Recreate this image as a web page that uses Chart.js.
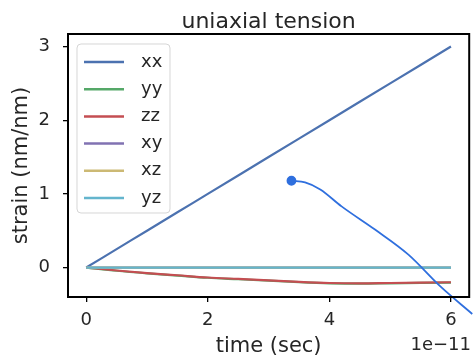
<!DOCTYPE html>
<html lang="en">
<head>
  <meta charset="UTF-8" />
  <title>uniaxial tension</title>
  <script src="https://cdn.jsdelivr.net/npm/chart.js"></script>
  <style>
    body { margin: 0; background: #fff; }
    canvas { display: block; }
  </style>
</head>
<body>
  <canvas id="strainChart" width="475" height="358"></canvas>

  <script>
  // time in seconds (axis shows it scaled by 1e-11)
  const timeSec = [0, 5e-12, 1e-11, 1.5e-11, 2e-11, 2.5e-11, 3e-11, 3.5e-11, 4e-11, 4.5e-11, 5e-11, 5.5e-11, 6e-11];
  const strainXX = [0, 0.25, 0.5, 0.75, 1.0, 1.25, 1.5, 1.75, 2.0, 2.25, 2.5, 2.75, 3.0];
  const strainYY = [0, -0.044, -0.079, -0.109, -0.139, -0.159, -0.179, -0.199, -0.214, -0.219, -0.214, -0.209, -0.204];
  const strainZZ = [0, -0.04, -0.075, -0.105, -0.135, -0.155, -0.175, -0.195, -0.21, -0.215, -0.21, -0.205, -0.2];
  const strainXY = [0, 0, 0, 0, 0, 0, 0, 0, 0, 0, 0, 0, 0];
  const strainXZ = [0, 0, 0, 0, 0, 0, 0, 0, 0, 0, 0, 0, 0];
  const strainYZ = [0, 0, 0, 0, 0, 0, 0, 0, 0, 0, 0, 0, 0];

  const seriesNames = ["xx", "yy", "zz", "xy", "xz", "yz"];
  const seriesColors = ["#4C72B0", "#55A868", "#C44E52", "#8172B2", "#CCB974", "#64B5CD"];
  const seriesValues = [strainXX, strainYY, strainZZ, strainXY, strainXZ, strainYZ];

  // blue pen stroke drawn over the plot
  const annoTime = [3.376e-11, 3.6e-11, 3.85e-11, 4.2e-11, 4.75e-11, 5.3e-11, 5.83e-11, 6.35e-11];
  const annoValue = [1.178, 1.155, 1.06, 0.83, 0.515, 0.175, -0.26, -0.63];

  const xTicks = [0, 2e-11, 4e-11, 6e-11];
  const yTicks = [0, 1, 2, 3];
  const xOffsetText = "1e\u221211";
  const titleText = "uniaxial tension";
  const xLabel = "time (sec)";
  const yLabel = "strain (nm/nm)";

  const FONT = "'DejaVu Sans', sans-serif";
  const TEXT = "#262626";

  const datasets = seriesNames.map((name, i) => ({
    label: name,
    data: timeSec.map((t, j) => ({ x: t, y: seriesValues[i][j] })),
    borderColor: seriesColors[i],
    borderWidth: 2.2,
    pointRadius: 0,
    fill: false,
    cubicInterpolationMode: "monotone",
    order: seriesNames.length - i + 1
  }));

  datasets.push({
    label: "",
    data: annoTime.map((t, j) => ({ x: t, y: annoValue[j] })),
    borderColor: "#2F6FDE",
    backgroundColor: "#2F6FDE",
    borderWidth: 1.8,
    pointRadius: annoTime.map((t, j) => j === 0 ? 4 : 0),
    cubicInterpolationMode: "monotone",
    clip: false,
    order: 0
  });

  const decorations = {
    id: "decorations",
    afterDatasetsDraw(chart) {
      const ctx = chart.ctx;
      const a = chart.chartArea;
      ctx.save();

      // frame
      ctx.strokeStyle = "#000";
      ctx.lineWidth = 2;
      ctx.strokeRect(a.left, a.top, a.right - a.left, a.bottom - a.top);

      // title
      ctx.fillStyle = TEXT;
      ctx.textAlign = "center";
      ctx.textBaseline = "alphabetic";
      ctx.font = "22px " + FONT;
      ctx.fillText(titleText, (a.left + a.right) / 2, 28);

      // axis labels
      ctx.font = "21px " + FONT;
      ctx.fillText(xLabel, (a.left + a.right) / 2, 352);
      ctx.save();
      ctx.translate(27, (a.top + a.bottom) / 2);
      ctx.rotate(-Math.PI / 2);
      ctx.fillText(yLabel, 0, 0);
      ctx.restore();

      // offset text
      ctx.font = "18px " + FONT;
      ctx.textAlign = "right";
      ctx.fillText(xOffsetText, 471, 350);

      // legend
      const bx = 77, by = 44, bw = 93, bh = 169;
      ctx.beginPath();
      ctx.roundRect(bx, by, bw, bh, 4);
      ctx.fillStyle = "rgba(255,255,255,0.8)";
      ctx.fill();
      ctx.strokeStyle = "rgba(204,204,204,0.8)";
      ctx.lineWidth = 1;
      ctx.stroke();
      ctx.textAlign = "left";
      ctx.textBaseline = "middle";
      seriesNames.forEach((name, i) => {
        const y = 62 + i * 27.2;
        ctx.strokeStyle = seriesColors[i];
        ctx.lineWidth = 2.5;
        ctx.beginPath();
        ctx.moveTo(84, y);
        ctx.lineTo(124, y);
        ctx.stroke();
        ctx.fillStyle = TEXT;
        ctx.fillText(name, 141, y);
      });

      ctx.restore();
    }
  };

  new Chart(document.getElementById("strainChart"), {
    type: "line",
    data: { datasets },
    options: {
      responsive: false,
      animation: false,
      layout: { padding: { top: 34, right: 3, left: 0, bottom: 0 } },
      plugins: {
        legend: { display: false },
        tooltip: { enabled: false }
      },
      scales: {
        x: {
          type: "linear",
          min: -0.3e-11,
          max: 6.3e-11,
          afterBuildTicks: s => { s.ticks = xTicks.map(v => ({ value: v })); },
          afterFit: s => { s.height = 61; },
          border: { display: false },
          grid: { drawOnChartArea: false, drawTicks: true, tickLength: 5, color: "#000", lineWidth: 1.3 },
          ticks: {
            color: TEXT,
            font: { family: FONT, size: 18 },
            padding: 8,
            maxRotation: 0,
            callback: v => String(Math.round(v / 1e-11))
          }
        },
        y: {
          type: "linear",
          min: -0.4,
          max: 3.17,
          afterBuildTicks: s => { s.ticks = yTicks.map(v => ({ value: v })); },
          afterFit: s => { s.width = 68; },
          border: { display: false },
          grid: { drawOnChartArea: false, drawTicks: true, tickLength: 5, color: "#000", lineWidth: 1.3 },
          ticks: {
            color: TEXT,
            font: { family: FONT, size: 18 },
            padding: 13
          }
        }
      }
    },
    plugins: [decorations]
  });
  </script>
</body>
</html>
